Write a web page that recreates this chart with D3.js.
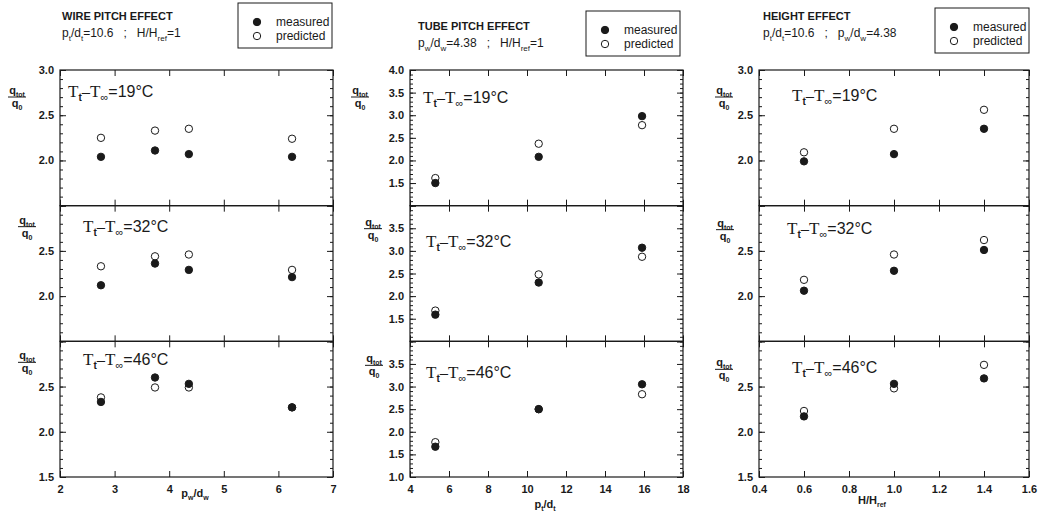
<!DOCTYPE html>
<html>
<head>
<meta charset="utf-8">
<script src="https://cdn.jsdelivr.net/npm/d3@7"></script>
<style>
body { margin: 0; background: #fff; }
svg { display: block; font-family: "Liberation Sans", Arial, sans-serif; }
</style>
</head>
<body>
<svg id="chart" width="1041" height="516"></svg>
<script>
// temperature differences, one row of sub-plots each
var temps = ["19", "32", "46"];

// wire pitch effect
var wireX = [2.75, 3.74, 4.36, 6.25];
var wireMeasured = [[2.04, 2.11, 2.07, 2.04], [2.12, 2.36, 2.29, 2.21], [2.33, 2.60, 2.53, 2.27]];
var wirePredicted = [[2.25, 2.33, 2.35, 2.24], [2.33, 2.44, 2.46, 2.29], [2.38, 2.49, 2.49, 2.27]];

// tube pitch effect
var tubeX = [5.3, 10.6, 15.9];
var tubeMeasured = [[1.50, 2.08, 2.98], [1.59, 2.30, 3.07], [1.67, 2.50, 3.05]];
var tubePredicted = [[1.61, 2.37, 2.78], [1.68, 2.48, 2.87], [1.77, 2.50, 2.83]];

// height effect
var heightX = [0.6, 1.0, 1.4];
var heightMeasured = [[1.99, 2.07, 2.35], [2.06, 2.28, 2.51], [2.17, 2.53, 2.59]];
var heightPredicted = [[2.09, 2.35, 2.56], [2.18, 2.46, 2.62], [2.23, 2.48, 2.74]];

// ticks
var wireXTicks = [2, 3, 4, 5, 6, 7];
var tubeXTicks = [4, 6, 8, 10, 12, 14, 16, 18];
var heightXTicks = [0.4, 0.6, 0.8, 1.0, 1.2, 1.4, 1.6];
var wireYTicks = [1.5, 2.0, 2.5, 3.0];
var tubeYTicks = [1.0, 1.5, 2.0, 2.5, 3.0, 3.5, 4.0];
var heightYTicks = [1.5, 2.0, 2.5, 3.0];

// texts
var titles = ["WIRE PITCH EFFECT", "TUBE PITCH EFFECT", "HEIGHT EFFECT"];
var conditions = [
  "p_{t}/d_{t}=10.6\u00a0\u00a0\u00a0;\u00a0\u00a0\u00a0H/H_{ref}=1",
  "p_{w}/d_{w}=4.38\u00a0\u00a0\u00a0;\u00a0\u00a0\u00a0H/H_{ref}=1",
  "p_{t}/d_{t}=10.6\u00a0\u00a0\u00a0;\u00a0\u00a0\u00a0p_{w}/d_{w}=4.38"
];
var xLabels = ["p_{w}/d_{w}", "p_{t}/d_{t}", "H/H_{ref}"];
var legendLabels = ["measured", "predicted"];

var serif = "'Liberation Serif', 'Times New Roman', serif";
var ink = "#1a1a1a";
var plotTop = 70, plotBottom = 477;
var subH = (plotBottom - plotTop) / 3;

var panels = [
  {x0: 60, x1: 333, xt: wireXTicks, yt: wireYTicks, xs: wireX, meas: wireMeasured, pred: wirePredicted,
   head: {x: 62, y: 20}, legend: {x: 238, y: 3}, xlab: {x: 195, y: 497},
   ann: [[8, 27], [23, 26], [23, 24]], frac: [[17, 27], [27, 21], [27, 21]]},
  {x0: 410, x1: 683, xt: tubeXTicks, yt: tubeYTicks, xs: tubeX, meas: tubeMeasured, pred: tubePredicted,
   head: {x: 418, y: 30}, legend: {x: 586, y: 11}, xlab: {x: 545, y: 508},
   ann: [[13, 33], [16, 41], [16, 37]], frac: [[360, 27], [373, 23], [374, 24]]},
  {x0: 759, x1: 1029, xt: heightXTicks, yt: heightYTicks, xs: heightX, meas: heightMeasured, pred: heightPredicted,
   head: {x: 763, y: 20}, legend: {x: 935, y: 8}, xlab: {x: 872, y: 504},
   ann: [[33, 31], [28, 28], [33, 32]], frac: [[724, 27], [725, 24], [724, 28]]}
];

// text with _{...} subscripts
function rich(sel, str, size, subSize) {
  var parts = str.split(/_\{([^}]*)\}/);
  var shift = 0;
  parts.forEach(function(s, i) {
    if (!s) return;
    var sub = i % 2 === 1;
    var want = sub ? Math.round(size * 0.3) : 0;
    sel.append("tspan")
      .attr("dy", want - shift)
      .attr("font-size", sub ? subSize : size)
      .text(s);
    shift = want;
  });
}

function tempLabel(sel, t) {
  sel.append("tspan").attr("font-family", serif).attr("font-size", 17).text("T");
  sel.append("tspan").attr("font-size", 10).attr("font-weight", "bold").attr("dy", 4).text("t");
  sel.append("tspan").attr("font-size", 15).attr("dy", -4).text("\u2013");
  sel.append("tspan").attr("font-family", serif).attr("font-size", 17).text("T");
  sel.append("tspan").attr("font-size", 11).attr("dy", 4).text("\u221e");
  sel.append("tspan").attr("font-size", 16).attr("dy", -4).text("=" + t + "\u00b0C");
}

var svg = d3.select("#chart");
svg.append("rect").attr("width", 1041).attr("height", 516).attr("fill", "#fff");

function styleAxis(g) {
  g.select(".domain").remove();
  g.selectAll("line").attr("stroke", ink).attr("stroke-width", 1);
  g.selectAll("text").attr("fill", ink).attr("font-size", 11).attr("font-weight", "bold")
    .attr("font-family", "'Liberation Sans', Arial, sans-serif");
}

panels.forEach(function(p, pi) {
  var g = svg.append("g");
  var x = d3.scaleLinear().domain(d3.extent(p.xt)).range([p.x0, p.x1]);
  var yMin = p.yt[0], yMax = p.yt[p.yt.length - 1];
  var fmt = d3.format(".1f");
  var xfmt = pi === 2 ? d3.format(".1f") : d3.format("d");

  // header
  g.append("text").attr("x", p.head.x).attr("y", p.head.y)
    .attr("font-size", 11).attr("font-weight", "bold").attr("fill", ink)
    .text(titles[pi]);
  var cond = g.append("text").attr("x", p.head.x).attr("y", p.head.y + 17).attr("fill", ink);
  rich(cond, conditions[pi], 12, 8);

  // legend
  var lg = g.append("g").attr("transform", "translate(" + p.legend.x + "," + p.legend.y + ")");
  lg.append("rect").attr("width", 94).attr("height", 45)
    .attr("fill", "#fff").attr("stroke", ink).attr("stroke-width", 1);
  legendLabels.forEach(function(l, i) {
    lg.append("circle").attr("cx", 19).attr("cy", 19 + i * 14).attr("r", 3.7)
      .attr("fill", i === 0 ? ink : "#fff").attr("stroke", ink).attr("stroke-width", 1);
    lg.append("text").attr("x", 38).attr("y", 23 + i * 14)
      .attr("font-size", 12).attr("fill", ink).text(l);
  });

  temps.forEach(function(t, ti) {
    var sy0 = plotTop + ti * subH;
    var sy1 = sy0 + subH;
    var y = d3.scaleLinear().domain([yMin, yMax]).range([sy1, sy0]);
    var minor = y.ticks(Math.round((yMax - yMin) * 10));

    // frame
    g.append("rect").attr("x", p.x0).attr("y", sy0).attr("width", p.x1 - p.x0).attr("height", subH)
      .attr("fill", "none").attr("stroke", ink).attr("stroke-width", 1.2);

    // y axes, left with labels, right plain
    g.append("g").attr("transform", "translate(" + p.x0 + ",0)")
      .call(d3.axisLeft(y).tickValues(minor).tickSize(-3).tickFormat(""))
      .call(styleAxis);
    g.append("g").attr("transform", "translate(" + p.x0 + ",0)")
      .call(d3.axisLeft(y).tickValues(p.yt).tickSize(-6).tickPadding(6)
        .tickFormat(function(d) {
          if (d === yMin && ti < 2) return "";
          if (d === yMax && ti > 0) return "";
          return fmt(d);
        }))
      .call(styleAxis);
    g.append("g").attr("transform", "translate(" + p.x1 + ",0)")
      .call(d3.axisRight(y).tickValues(minor).tickSize(-3).tickFormat(""))
      .call(styleAxis);
    g.append("g").attr("transform", "translate(" + p.x1 + ",0)")
      .call(d3.axisRight(y).tickValues(p.yt).tickSize(-6).tickFormat(""))
      .call(styleAxis);

    // x ticks on top and bottom edges
    g.append("g").attr("transform", "translate(0," + sy0 + ")")
      .call(d3.axisTop(x).tickValues(p.xt).tickSize(-6).tickFormat(""))
      .call(styleAxis);
    g.append("g").attr("transform", "translate(0," + sy1 + ")")
      .call(d3.axisBottom(x).tickValues(p.xt).tickSize(-6).tickPadding(8)
        .tickFormat(ti === 2 ? xfmt : ""))
      .call(styleAxis);

    // y label q_tot / q_0
    var fx = p.frac[ti][0], fy = sy0 + p.frac[ti][1];
    var qt = g.append("text").attr("x", fx).attr("y", fy - 3).attr("text-anchor", "middle")
      .attr("font-weight", "bold").attr("fill", ink);
    rich(qt, "q_{tot}", 11, 7);
    g.append("line").attr("x1", fx - 9).attr("x2", fx + 9).attr("y1", fy).attr("y2", fy)
      .attr("stroke", ink).attr("stroke-width", 1);
    var q0 = g.append("text").attr("x", fx).attr("y", fy + 10).attr("text-anchor", "middle")
      .attr("font-weight", "bold").attr("fill", ink);
    rich(q0, "q_{0}", 11, 7);

    // temperature annotation
    var ann = g.append("text").attr("x", p.x0 + p.ann[ti][0]).attr("y", sy0 + p.ann[ti][1]).attr("fill", ink);
    tempLabel(ann, t);

    // points: predicted (open) then measured (filled)
    g.selectAll(null).data(p.xs).enter().append("circle")
      .attr("cx", function(d) { return x(d); })
      .attr("cy", function(d, i) { return y(p.pred[ti][i]); })
      .attr("r", 3.7).attr("fill", "#fff").attr("stroke", ink).attr("stroke-width", 1);
    g.selectAll(null).data(p.xs).enter().append("circle")
      .attr("cx", function(d) { return x(d); })
      .attr("cy", function(d, i) { return y(p.meas[ti][i]); })
      .attr("r", 3.7).attr("fill", ink).attr("stroke", ink).attr("stroke-width", 1);
  });

  // x axis title
  var xl = g.append("text").attr("x", p.xlab.x).attr("y", p.xlab.y).attr("text-anchor", "middle")
    .attr("font-weight", "bold").attr("fill", ink);
  rich(xl, xLabels[pi], 11, 7);
});
</script>
</body>
</html>
